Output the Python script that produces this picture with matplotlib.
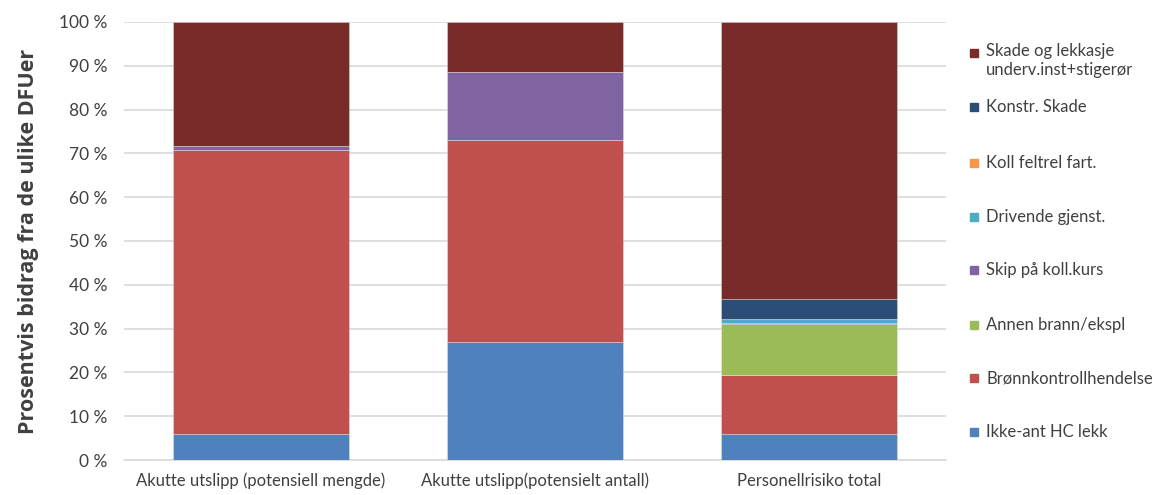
import numpy as np
import matplotlib
matplotlib.use('Agg')
import matplotlib.pyplot as plt
from matplotlib.patches import Rectangle

plt.rcParams['font.family'] = ['Lato', 'DejaVu Sans']

# data (prosent per DFU)
categories = ['Akutte utslipp (potensiell mengde)', 'Akutte utslipp(potensielt antall)', 'Personellrisiko total']
series_names = ['Ikke-ant HC lekk', 'Brønnkontrollhendelse', 'Annen brann/ekspl', 'Skip på koll.kurs',
                'Drivende gjenst.', 'Koll feltrel fart.', 'Konstr. Skade', 'Skade og lekkasje\nunderv.inst+stigerør']
ikke_ant = [6.0, 27.0, 6.0]
bronn = [64.8, 46.0, 13.4]
annen = [0.0, 0.0, 11.6]
skip = [1.0, 15.6, 0.2]
drivende = [0.0, 0.0, 1.0]
koll = [0.0, 0.0, 0.0]
konstr = [0.0, 0.0, 4.6]
skade = [28.2, 11.4, 63.2]
values = [ikke_ant, bronn, annen, skip, drivende, koll, konstr, skade]
colors = ['#4F81BD', '#C0504D', '#9BBB59', '#8064A2', '#4BACC6', '#F79646', '#2C4D75', '#772C2A']
yticks = np.arange(0, 101, 10)

fig = plt.figure(figsize=(11.66, 4.95), dpi=100)
ax = fig.add_axes([0.1063, 0.0707, 0.7050, 0.8849])

x = np.arange(len(categories))
bottom = np.zeros(len(categories))
for vals, col in zip(values, colors):
    vals = np.array(vals)
    ax.bar(x, vals, bottom=bottom, width=0.64, color=col, edgecolor=(1, 1, 1, 0.35), linewidth=0.6, zorder=3)
    bottom += vals

ax.set_xlim(-0.5, len(categories) - 0.5)
ax.set_ylim(0, 100)
ax.set_yticks(yticks)
ax.set_yticklabels(['%d %%' % v for v in yticks], fontsize=12.5, color='#404040')
ax.set_xticks(x)
ax.set_xticklabels(categories, fontsize=12, color='#404040')
ax.tick_params(axis='both', length=0)
ax.tick_params(axis='y', pad=12)
ax.tick_params(axis='x', pad=9)
ax.grid(axis='y', color='#D9D9D9', linewidth=1.2, zorder=0)
for s in ['top', 'right', 'left']:
    ax.spines[s].set_visible(False)
ax.spines['bottom'].set_color('#D9D9D9')
ax.spines['bottom'].set_linewidth(1.2)
ax.set_ylabel('Prosentvis bidrag fra de ulike DFUer', fontsize=15.5, fontweight='bold', color='#404040',
              family=['Open Sans', 'DejaVu Sans'], labelpad=14)

# legend, reversed order like excel
W, H = 1166.0, 495.0
leg_y = [53, 107, 163, 217, 270, 325, 378, 432]
for name, col, yp in zip(series_names[::-1], colors[::-1], leg_y):
    fig.patches.append(Rectangle(((974 - 4) / W, 1 - (yp + 4) / H), 8 / W, 8 / H,
                                 transform=fig.transFigure, color=col))
    fig.text(986 / W, 1 - yp / H, name, fontsize=12, color='#404040', va='top' if '\n' in name else 'center',
             linespacing=1.25)
# move the two-line entry so its first line sits on the marker
t = fig.texts[0]
t.set_y(1 - (53 - 10) / H)

fig.savefig('out.png', dpi=100)
